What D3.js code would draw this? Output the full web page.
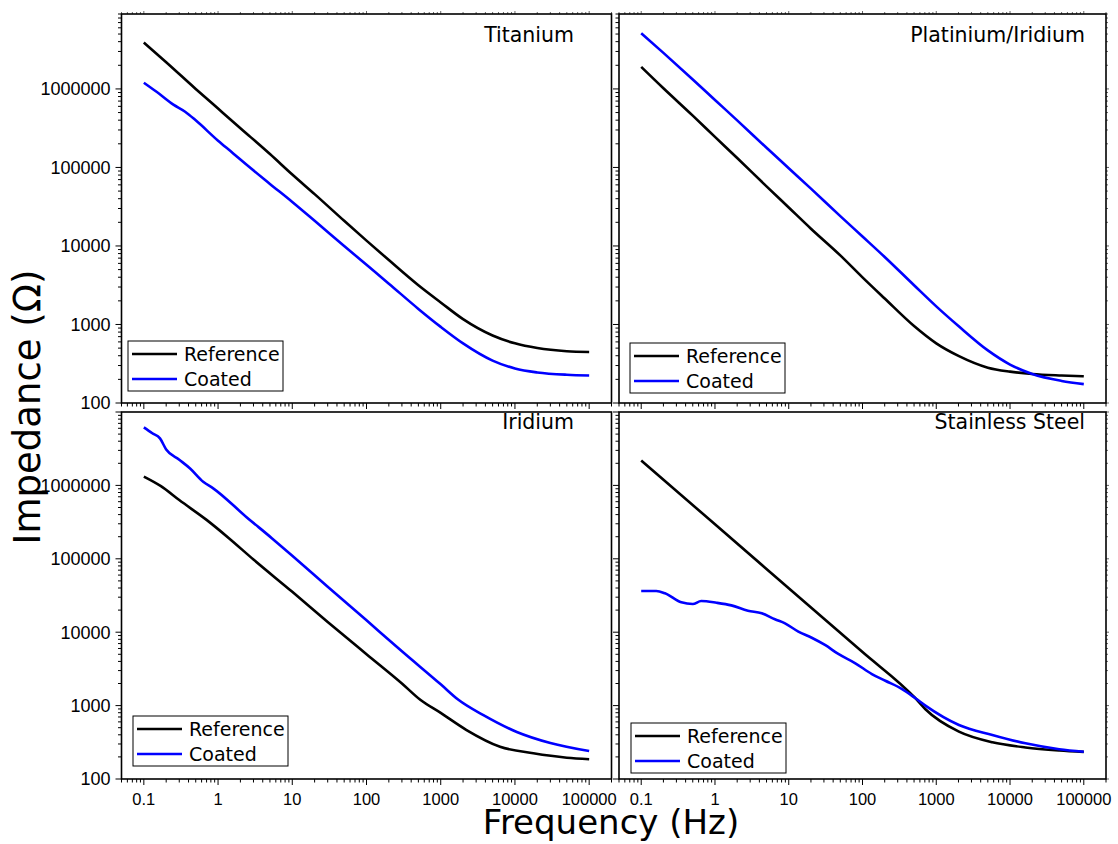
<!DOCTYPE html>
<html>
<head>
<meta charset="utf-8">
<script src="https://cdn.jsdelivr.net/npm/d3@7"></script>
<style>
  body { margin: 0; background: #fff; }
  svg { display: block; }
</style>
</head>
<body>
<svg id="chart"></svg>
<script>
// ---- data (frequency in Hz, impedance in ohm) ----
const xTickValues = [0.1, 1, 10, 100, 1000, 10000, 100000];
const yTickValues = [100, 1000, 10000, 100000, 1000000];
const seriesNames = ["Reference", "Coated"];

const tiRefFreq = [0.1, 0.2, 0.5, 1, 2, 5, 10, 20, 50, 100, 200, 500, 1000, 2000, 5000, 10000, 20000, 50000, 100000];
const tiRefZ = [3890000, 2190000, 1000000, 562000, 316000, 148000, 81300, 45700, 20900, 11700, 6610, 3160, 1910, 1170, 724, 575, 501, 457, 447];
const tiCoatFreq = [0.1, 0.15, 0.25, 0.36, 0.5, 1, 1.6, 2, 5, 10, 20, 50, 100, 200, 500, 1000, 2000, 5000, 10000, 20000, 50000, 100000];
const tiCoatZ = [1200000, 912000, 631000, 513000, 398000, 219000, 151000, 126000, 61700, 36300, 20900, 10000, 5750, 3310, 1580, 933, 575, 347, 275, 245, 229, 224];

const ptRefFreq = [0.1, 0.2, 0.5, 1, 2, 5, 10, 20, 50, 100, 200, 500, 1000, 2000, 5000, 10000, 20000, 50000, 100000];
const ptRefZ = [1910000, 1020000, 457000, 245000, 132000, 57500, 30900, 16600, 7590, 3980, 2140, 955, 575, 398, 282, 251, 234, 224, 219];
const ptCoatFreq = [0.1, 0.2, 0.5, 1, 2, 5, 10, 20, 50, 100, 200, 500, 1000, 2000, 5000, 10000, 20000, 50000, 100000];
const ptCoatZ = [5130000, 2880000, 1320000, 724000, 398000, 178000, 97700, 53700, 24000, 13200, 7240, 3160, 1700, 955, 468, 309, 234, 191, 174];

const irRefFreq = [0.1, 0.17, 0.3, 0.7, 1.4, 3, 10, 30, 100, 300, 530, 1000, 2200, 6300, 17700, 50000, 100000];
const irRefZ = [1320000, 977000, 631000, 339000, 191000, 97700, 35500, 13800, 5010, 2000, 1200, 794, 468, 275, 224, 195, 186];
const irCoatFreq = [0.1, 0.13, 0.165, 0.2, 0.3, 0.42, 0.63, 0.86, 2.4, 5.3, 10, 30, 100, 300, 1000, 1730, 3760, 10600, 30000, 100000];
const irCoatZ = [6170000, 5130000, 4370000, 3090000, 2240000, 1700000, 1120000, 912000, 372000, 191000, 110000, 41700, 14500, 5500, 1950, 1200, 741, 437, 309, 240];

const ssRefFreq = [0.1, 1, 10, 100, 521, 713, 2030, 5760, 16200, 46500, 100000];
const ssRefZ = [2190000, 295000, 39800, 5370, 1260, 891, 441, 316, 269, 245, 234];
const ssCoatFreq = [0.1, 0.16, 0.21, 0.35, 0.5, 0.65, 1.05, 1.67, 2.8, 4.3, 6.5, 8.9, 13.5, 20.5, 31, 47, 80, 134, 204, 344, 521, 713, 2030, 5760, 16200, 46500, 100000];
const ssCoatZ = [36400, 36400, 33900, 25500, 24200, 26600, 25200, 23200, 19600, 18100, 15000, 13200, 10200, 8400, 6700, 5050, 3770, 2690, 2180, 1680, 1260, 1000, 545, 398, 306, 254, 235];

// ---- layout ----
const W = 1118, H = 844;
const colors = ["#000000", "#0000ff"];
const labelFont = "'Liberation Sans', Arial, sans-serif";
const textFont = "'DejaVu Sans', Verdana, sans-serif";

const panels = [
  { title: "Titanium", x0: 121.5, x1: 611.5, y0: 14, y1: 403, yMax: 9e6,
    ref: [tiRefFreq, tiRefZ], coat: [tiCoatFreq, tiCoatZ],
    left: true, bottom: false, top: true, right: false, legend: [128, 341], titleX: 574, titleY: 42 },
  { title: "Platinium/Iridium", x0: 619, x1: 1106, y0: 14, y1: 403, yMax: 9e6,
    ref: [ptRefFreq, ptRefZ], coat: [ptCoatFreq, ptCoatZ],
    left: false, bottom: false, top: true, right: true, legend: [630, 343], titleX: 1085, titleY: 42 },
  { title: "Iridium", x0: 121.5, x1: 611.5, y0: 412, y1: 779, yMax: 1e7,
    ref: [irRefFreq, irRefZ], coat: [irCoatFreq, irCoatZ],
    left: true, bottom: true, top: false, right: false, legend: [133, 716], titleX: 574, titleY: 429 },
  { title: "Stainless Steel", x0: 619, x1: 1106, y0: 412, y1: 779, yMax: 1e7,
    ref: [ssRefFreq, ssRefZ], coat: [ssCoatFreq, ssCoatZ],
    left: false, bottom: true, top: false, right: true, legend: [631, 723], titleX: 1085, titleY: 429 }
];

const svg = d3.select("#chart").attr("width", W).attr("height", H);

// minor ticks of a log axis inside a domain
function logTicks(lo, hi) {
  const out = [];
  for (let e = Math.floor(Math.log10(lo)); e <= Math.ceil(Math.log10(hi)); e++) {
    for (let m = 1; m <= 9; m++) {
      const v = m * Math.pow(10, e);
      if (v >= lo * 0.999 && v <= hi * 1.001) out.push({ v: v, major: m === 1 });
    }
  }
  return out;
}

const fmtX = d => d < 1 ? String(d) : d3.format("d")(d);

panels.forEach(p => {
  const x = d3.scaleLog().domain([0.05, 200000]).range([p.x0, p.x1]);
  const y = d3.scaleLog().domain([100, p.yMax]).range([p.y1, p.y0]);
  const g = svg.append("g");

  const xt = logTicks(0.05, 200000);
  const yt = logTicks(100, p.yMax);

  // bottom ticks (outward)
  g.selectAll(".xb").data(xt).join("line")
    .attr("x1", d => x(d.v)).attr("x2", d => x(d.v))
    .attr("y1", p.y1).attr("y2", d => p.y1 + (d.major ? 6 : 3.5))
    .attr("stroke", "#000").attr("stroke-width", 1);
  // left ticks (outward)
  g.selectAll(".yl").data(yt).join("line")
    .attr("y1", d => y(d.v)).attr("y2", d => y(d.v))
    .attr("x1", p.x0).attr("x2", d => p.x0 - (d.major ? 6 : 3.5))
    .attr("stroke", "#000").attr("stroke-width", 1);
  if (p.top) {
    g.selectAll(".xt").data(xt).join("line")
      .attr("x1", d => x(d.v)).attr("x2", d => x(d.v))
      .attr("y1", p.y0).attr("y2", d => p.y0 - (d.major ? 3 : 2))
      .attr("stroke", "#666").attr("stroke-width", 1);
  }
  if (p.right) {
    g.selectAll(".yr").data(yt).join("line")
      .attr("y1", d => y(d.v)).attr("y2", d => y(d.v))
      .attr("x1", p.x1).attr("x2", d => p.x1 + (d.major ? 3 : 2))
      .attr("stroke", "#666").attr("stroke-width", 1);
  }

  if (p.left) {
    g.selectAll(".ylab").data(yTickValues).join("text")
      .attr("x", p.x0 - 11).attr("y", d => y(d)).attr("dy", "0.35em")
      .attr("text-anchor", "end")
      .style("font-family", labelFont).style("font-size", "18px")
      .text(d => d3.format("d")(d));
  }
  if (p.bottom) {
    g.selectAll(".xlab").data(xTickValues).join("text")
      .attr("x", d => x(d)).attr("y", p.y1 + 26)
      .attr("text-anchor", "middle")
      .style("font-family", labelFont).style("font-size", "16.5px")
      .text(fmtX);
  }

  // frame
  g.append("rect")
    .attr("x", p.x0).attr("y", p.y0)
    .attr("width", p.x1 - p.x0).attr("height", p.y1 - p.y0)
    .attr("fill", "none").attr("stroke", "#000").attr("stroke-width", 1.6);

  const line = d3.line().x(d => x(d[0])).y(d => y(d[1])).curve(d3.curveMonotoneX);
  [p.ref, p.coat].forEach((s, i) => {
    const pts = s[0].map((f, k) => [f, s[1][k]]);
    g.append("path").datum(pts)
      .attr("d", line)
      .attr("fill", "none")
      .attr("stroke", colors[i])
      .attr("stroke-width", 2.6)
      .attr("stroke-linejoin", "round");
  });

  g.append("text")
    .attr("x", p.titleX).attr("y", p.titleY)
    .attr("text-anchor", "end")
    .style("font-family", textFont).style("font-size", "20.5px")
    .text(p.title);

  // legend
  const [lx, ly] = p.legend;
  const lg = g.append("g").attr("transform", `translate(${lx},${ly})`);
  lg.append("rect").attr("width", 155).attr("height", 50)
    .attr("fill", "#fff").attr("stroke", "#000").attr("stroke-width", 1);
  seriesNames.forEach((n, i) => {
    lg.append("line").attr("x1", 4).attr("x2", 49)
      .attr("y1", 13 + i * 25).attr("y2", 13 + i * 25)
      .attr("stroke", colors[i]).attr("stroke-width", 2.6);
    lg.append("text").attr("x", 56).attr("y", 20 + i * 25)
      .style("font-family", textFont).style("font-size", "19px")
      .text(n);
  });
});

// axis titles
svg.append("text")
  .attr("x", 611).attr("y", 834)
  .attr("text-anchor", "middle")
  .style("font-family", textFont).style("font-size", "34px")
  .text("Frequency (Hz)");

svg.append("text")
  .attr("transform", "translate(40,407) rotate(-90)")
  .attr("text-anchor", "middle")
  .style("font-family", textFont).style("font-size", "37px")
  .text("Impedance (Ω)");
</script>
</body>
</html>
